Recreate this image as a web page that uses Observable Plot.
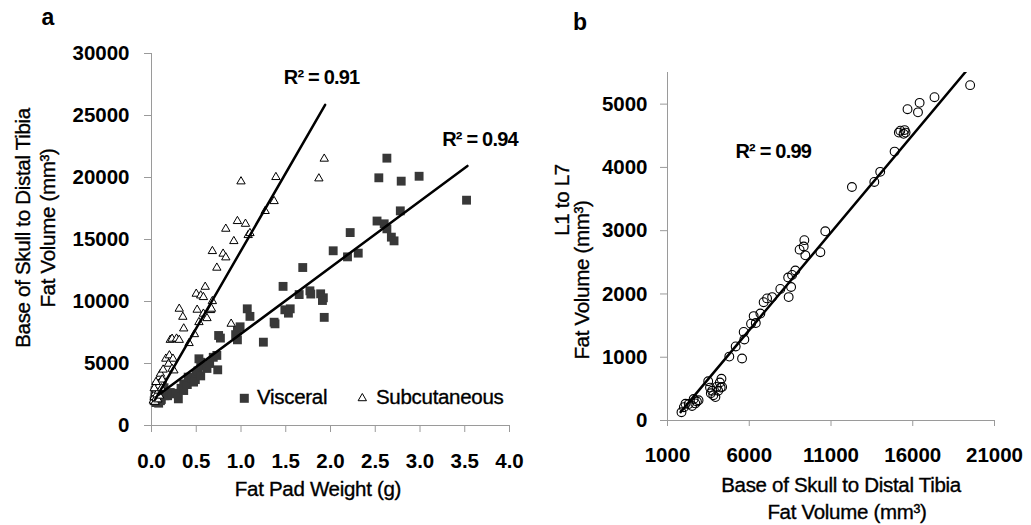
<!DOCTYPE html>
<html>
<head>
<meta charset="utf-8">
<script src="https://cdn.jsdelivr.net/npm/d3@7"></script>
<script src="https://cdn.jsdelivr.net/npm/@observablehq/plot@0.6"></script>
<style>
  body { margin: 0; background: #fff; }
  #chart { position: relative; width: 1031px; height: 525px; background: #fff; }
  #chart svg { position: absolute; top: 0; }
</style>
</head>
<body>
<div id="chart"></div>
<script>
// ---------- Panel a data ----------
const visceralWeight = [0.03,0.04,0.05,0.05,0.06,0.07,0.08,0.08,0.09,0.10,0.11,0.12,0.13,0.06,0.10,0.14,0.04,0.15,0.18,0.21,0.23,0.27,0.30,0.33,0.36,0.36,0.40,0.41,0.45,0.47,0.49,0.50,0.52,0.55,0.53,0.55,0.58,0.62,0.65,0.69,0.73,0.74,0.75,0.77,0.94,0.96,0.96,0.99,1.07,1.10,1.25,1.37,1.38,1.47,1.49,1.53,1.55,1.65,1.69,1.77,1.78,1.89,1.92,1.91,1.93,2.03,2.19,2.22,2.31,2.52,2.54,2.60,2.63,2.63,2.68,2.71,2.78,2.79,2.99,3.52];
const visceralVolume = [2000,2300,1850,2600,2200,3000,2500,1800,2800,3300,2100,3500,2700,3200,2000,3050,2800,2400,2400,2660,2550,2600,2150,3000,2820,3360,3300,3900,3800,3500,3700,4200,4400,4000,5380,5100,4800,4600,5000,5500,5650,4490,7260,7050,7330,6910,7660,7960,9410,8800,6720,8330,8200,11220,9330,9060,9410,10560,12740,10860,10600,10620,10300,10080,8720,14090,13600,15560,13900,16490,19975,16265,15860,21560,15190,14890,17310,19705,20100,18170];

const subcutWeight = [0.02,0.03,0.04,0.04,0.05,0.05,0.06,0.06,0.07,0.07,0.08,0.08,0.09,0.09,0.10,0.10,0.11,0.12,0.03,0.05,0.13,0.16,0.19,0.20,0.23,0.24,0.25,0.21,0.23,0.28,0.31,0.31,0.35,0.36,0.42,0.48,0.50,0.53,0.51,0.55,0.58,0.58,0.60,0.62,0.66,0.67,0.68,0.68,0.73,0.80,0.83,0.83,0.89,0.92,0.96,1.00,1.05,1.08,1.10,1.27,1.37,1.39,1.87,1.93];
const subcutVolume = [2000,2300,2600,1900,2900,2200,3300,2500,3600,2100,2800,3200,3900,2400,4170,3500,3000,3700,3000,3500,4500,5380,4975,5650,4570,5380,4435,6900,6990,7000,6900,9410,8760,7820,6640,7360,10620,8330,9330,10480,10350,9010,11180,8650,9300,9410,10025,14060,12720,13850,13550,15860,8200,14865,16480,19680,16260,15350,15510,17290,18090,20030,19920,21510];

// fitted regression lines (end points)
const subcutFitWeight = [0.04, 1.94];
const subcutFitVolume = [2090, 25860];
const visceralFitWeight = [0.08, 3.53];
const visceralFitVolume = [2480, 20935];

const weightTicks = [0, 0.5, 1.0, 1.5, 2.0, 2.5, 3.0, 3.5, 4.0];
const volumeTicksA = [0, 5000, 10000, 15000, 20000, 25000, 30000];
const r2TextA = ["R² = 0.91", "R² = 0.94"];
const r2WeightA = [1.478, 3.248];
const r2VolumeA = [27560, 22580];

// ---------- Panel b data ----------
const totalVolume = [1855,2000,2100,2300,2600,2700,2800,2500,2900,3490,3600,3730,3800,3930,4000,4100,4200,4300,4340,3650,4250,4780,5560,5170,5700,5660,6110,6400,6270,6680,6880,7090,7400,7900,8410,8560,8380,8620,8820,9080,9330,9370,9430,10350,10650,12280,13650,14010,14890,15150,15240,15440,15500,15560,15680,16320,16420,17330,19510];
const lumbarVolume = [130,210,265,260,340,270,300,230,320,620,520,470,400,370,530,470,600,660,530,430,520,1010,980,1170,1280,1400,1530,1540,1650,1690,1870,1930,1950,2080,1950,2110,2260,2300,2370,2700,2750,2850,2610,2660,2990,3690,3770,3930,4250,4550,4580,4530,4590,4550,4920,4870,5020,5110,5300];

const fitTotal = [1800, 20000];
const fitLumbar = [133, 5748];

const totalTicks = [1000, 6000, 11000, 16000, 21000];
const lumbarTicks = [0, 1000, 2000, 3000, 4000, 5000];
const r2TextB = ["R² = 0.99"];
const r2TotalB = [5155];
const r2LumbarB = [4145];

// ---------- Text ----------
const panelLetters = ["a", "b"];
const titleA_y = ["Base of Skull to Distal Tibia", "Fat Volume (mm³)"];
const titleA_x = "Fat Pad Weight (g)";
const titleB_y = ["L1 to L7", "Fat Volume (mm³)"];
const titleB_x = ["Base of Skull to Distal Tibia", "Fat Volume (mm³)"];
const legendLabels = ["Visceral", "Subcutaneous"];

// ---------- Build tables ----------
const zip = (xs, ys) => xs.map((x, i) => ({x, y: ys[i]}));
const visceral = zip(visceralWeight, visceralVolume);
const subcut = zip(subcutWeight, subcutVolume);
const visceralFit = zip(visceralFitWeight, visceralFitVolume);
const subcutFit = zip(subcutFitWeight, subcutFitVolume);
const r2A = r2TextA.map((t, i) => ({t, x: r2WeightA[i], y: r2VolumeA[i]}));
const lumbar = zip(totalVolume, lumbarVolume);
const fitB = zip(fitTotal, fitLumbar);
const r2B = r2TextB.map((t, i) => ({t, x: r2TotalB[i], y: r2LumbarB[i]}));

const FONT = '"Liberation Sans", Arial, Helvetica, sans-serif';
const AXIS = "#9a9a9a";
const SQUARE = "#383838";
const baseStyle = {fontFamily: FONT, fontSize: "20.5px", fontWeight: "bold", color: "black", background: "transparent", overflow: "visible"};

const plotA = Plot.plot({
  width: 560, height: 525,
  marginLeft: 151, marginRight: 51, marginTop: 53, marginBottom: 100,
  x: {domain: [0, 4]},
  y: {domain: [0, 30000]},
  style: baseStyle,
  marks: [
    Plot.ruleX([0], {stroke: AXIS}),
    Plot.ruleY([0], {stroke: AXIS}),
    Plot.axisX({ticks: weightTicks, tickFormat: d3.format(".1f"), tickSize: 7, tickPadding: 21, stroke: AXIS, fill: "black", label: null}),
    Plot.axisY({ticks: volumeTicksA, tickFormat: d3.format("d"), tickSize: 7, tickPadding: 15, stroke: AXIS, fill: "black", label: null}),
    Plot.dot(visceral, {x: "x", y: "y", symbol: "square", r: 5, fill: SQUARE, stroke: "none"}),
    Plot.dot(subcut, {x: "x", y: "y", symbol: "triangle", r: 3.1, fill: "white", stroke: "black", strokeWidth: 1}),
    Plot.line(subcutFit, {x: "x", y: "y", stroke: "black", strokeWidth: 2.5}),
    Plot.line(visceralFit, {x: "x", y: "y", stroke: "black", strokeWidth: 2.5}),
    Plot.text(r2A, {x: "x", y: "y", text: "t", textAnchor: "start", lineAnchor: "bottom", fontSize: 20, fontWeight: "bold", fill: "black"})
  ]
});
plotA.style.left = "0px";

const plotB = Plot.plot({
  width: 471, height: 525,
  marginLeft: 107, marginRight: 37, marginTop: 72, marginBottom: 105,
  x: {domain: [1000, 21000]},
  y: {domain: [0, 5500]},
  style: baseStyle,
  marks: [
    Plot.ruleX([1000], {stroke: AXIS}),
    Plot.ruleY([0], {stroke: AXIS}),
    Plot.axisX({ticks: totalTicks, tickFormat: d3.format("d"), tickSize: 6, tickPadding: 21, stroke: AXIS, fill: "black", label: null}),
    Plot.axisY({ticks: lumbarTicks, tickFormat: d3.format("d"), tickSize: 7, tickPadding: 13, stroke: AXIS, fill: "black", label: null}),
    Plot.dot(lumbar, {x: "x", y: "y", r: 4.4, fill: "none", stroke: "black", strokeWidth: 1.1}),
    Plot.line(fitB, {x: "x", y: "y", stroke: "black", strokeWidth: 2.5, clip: true}),
    Plot.text(r2B, {x: "x", y: "y", text: "t", textAnchor: "start", lineAnchor: "bottom", fontSize: 20, fontWeight: "bold", fill: "black"})
  ]
});
plotB.style.left = "560px";

const chart = document.getElementById("chart");
chart.appendChild(plotA);
chart.appendChild(plotB);
d3.selectAll([plotA, plotB]).selectAll('g[aria-label="text"] text').style("letter-spacing", "-0.8px");

// ---------- Overlay: titles, letters, legend ----------
const ov = d3.select(chart).append("svg")
  .attr("width", 1031).attr("height", 525)
  .style("left", "0px").style("pointer-events", "none")
  .attr("font-family", FONT);

function label(str, x, y, {size = 20.5, weight = "normal", anchor = "middle", rotate = 0} = {}) {
  const t = ov.append("text")
    .attr("transform", `translate(${x},${y}) rotate(${rotate})`)
    .attr("text-anchor", anchor)
    .attr("font-size", size)
    .attr("font-weight", weight)
    .attr("fill", "black")
    .text(str);
  if (weight === "normal") t.attr("stroke", "black").attr("stroke-width", 0.35).style("letter-spacing", "-0.3px");
}

label(panelLetters[0], 48, 25, {size: 23, weight: "bold"});
label(panelLetters[1], 580, 30, {size: 23, weight: "bold"});

label(titleA_y[0], 30, 228, {rotate: -90});
label(titleA_y[1], 55, 228, {rotate: -90});
label(titleA_x, 318, 496);

label(titleB_y[0], 569, 200, {rotate: -90});
label(titleB_y[1], 589, 280, {rotate: -90});
label(titleB_x[0], 841, 492);
label(titleB_x[1], 847, 519);

// legend (panel a)
ov.append("rect").attr("x", 244.3 - 4.5).attr("y", 398.3 - 4.5).attr("width", 9).attr("height", 9).attr("fill", SQUARE);
label(legendLabels[0], 257, 404, {anchor: "start"});
ov.append("path")
  .attr("d", d3.symbol(d3.symbolTriangle, Math.PI * 3.1 * 3.1)())
  .attr("transform", "translate(362.3,398.3)")
  .attr("fill", "white").attr("stroke", "black").attr("stroke-width", 1);
label(legendLabels[1], 376, 404, {anchor: "start"});
</script>
</body>
</html>
